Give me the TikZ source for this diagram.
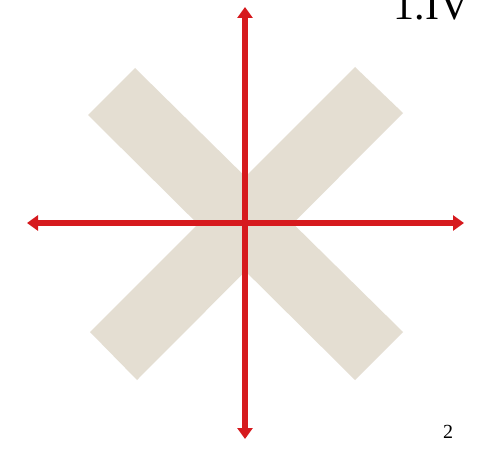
\documentclass[tikz,border=0pt]{standalone}
\usepackage{fontspec}
\setmainfont{Liberation Serif}
\usetikzlibrary{arrows.meta}
\definecolor{xbeige}{RGB}{228,222,210}
\definecolor{axisred}{RGB}{214,26,30}
\begin{document}
\begin{tikzpicture}[x=1pt,y=-1pt,
  bar/.style={fill=xbeige,draw=none},
  axis/.style={draw=axisred,line width=5.2pt,{Triangle[length=11pt,width=15pt]}-{Triangle[length=11pt,width=15pt]}}]
\useasboundingbox (0,0) rectangle (486,449);
\fill[white] (0,0) rectangle (486,449);
% X shape
\path[bar] (135,68) -- (88,115) -- (355,380) -- (403,332) -- cycle;
\path[bar] (355,67) -- (403,113) -- (137,380) -- (90,332) -- cycle;
% axes
\coordinate (top) at (245,7);
\coordinate (bottom) at (245,439);
\coordinate (left) at (27,223);
\coordinate (right) at (464,223);
\draw[axis] (bottom) -- (top);
\draw[axis] (left) -- (right);
% texts
\node[anchor=base east,inner sep=0pt,font=\fontsize{42}{42}\selectfont] (title) at (470,20) {1.IV};
\node[anchor=base,inner sep=0pt,font=\fontsize{20}{20}\selectfont] (page) at (448,438) {2};
\end{tikzpicture}
\end{document}
